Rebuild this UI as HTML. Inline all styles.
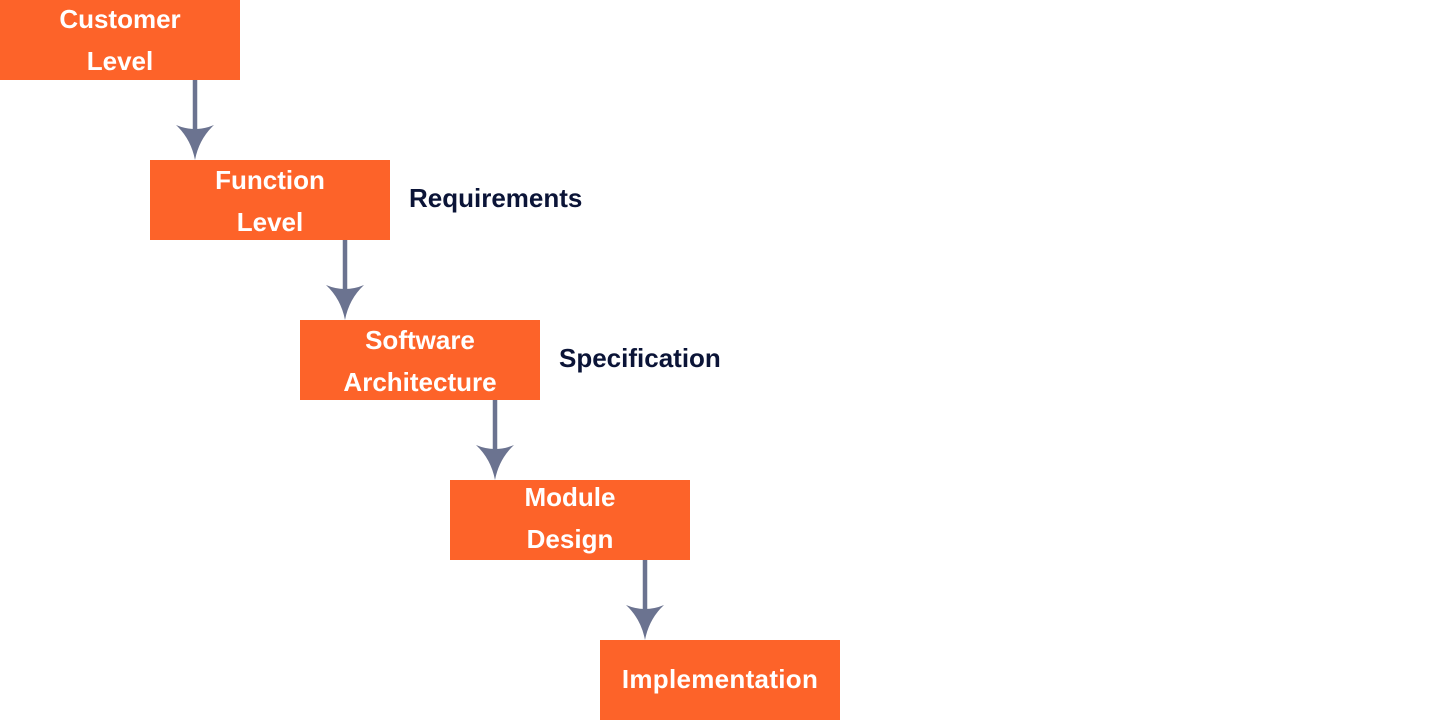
<!DOCTYPE html>
<html>
<head>
<meta charset="utf-8">
<style>
  html, body { margin:0; padding:0; background:#ffffff; }
  body { width:1440px; height:720px; overflow:hidden; position:relative; }
  svg { position:absolute; left:0; top:0; }
  .box { fill:#fd6329; }
  .bt { font-family:"Liberation Sans", Arial, sans-serif; font-weight:bold; font-size:26px; fill:#ffffff; text-anchor:middle; }
  .bt2 { letter-spacing:0.3px; }
  .lbl { font-family:"Liberation Sans", Arial, sans-serif; font-weight:bold; font-size:26px; fill:#0b1437; }
  .ln { stroke:#6b7390; stroke-width:4.5; }
  .ah { fill:#6b7390; }
</style>
</head>
<body>
<svg width="1440" height="720" viewBox="0 0 1440 720" xmlns="http://www.w3.org/2000/svg">
  <!-- boxes -->
  <rect class="box" x="0" y="0" width="240" height="80"/>
  <rect class="box" x="150" y="160" width="240" height="80"/>
  <rect class="box" x="300" y="320" width="240" height="80"/>
  <rect class="box" x="450" y="480" width="240" height="80"/>
  <rect class="box" x="600" y="640" width="240" height="80"/>

  <!-- box text -->
  <text class="bt" x="120" y="28">Customer</text>
  <text class="bt" x="120" y="70">Level</text>
  <text class="bt" x="270" y="189">Function</text>
  <text class="bt" x="270" y="231">Level</text>
  <text class="bt" x="420" y="349">Software</text>
  <text class="bt" x="420" y="391">Architecture</text>
  <text class="bt" x="570" y="506">Module</text>
  <text class="bt" x="570" y="548">Design</text>
  <text class="bt bt2" x="720" y="688">Implementation</text>

  <!-- side labels -->
  <text class="lbl" x="409" y="207">Requirements</text>
  <text class="lbl" x="559" y="367">Specification</text>

  <!-- connectors -->
  <g>
    <line class="ln" x1="195" y1="80" x2="195" y2="135"/>
    <path class="ah" d="M176 125 Q195 133 214 125 Q199 139 195 160 Q191 139 176 125 Z"/>

    <line class="ln" x1="345" y1="240" x2="345" y2="295"/>
    <path class="ah" d="M326 285 Q345 293 364 285 Q349 299 345 320 Q341 299 326 285 Z"/>

    <line class="ln" x1="495" y1="400" x2="495" y2="455"/>
    <path class="ah" d="M476 445 Q495 453 514 445 Q499 459 495 480 Q491 459 476 445 Z"/>

    <line class="ln" x1="645" y1="560" x2="645" y2="615"/>
    <path class="ah" d="M626 605 Q645 613 664 605 Q649 619 645 640 Q641 619 626 605 Z"/>
  </g>
</svg>
</body>
</html>
